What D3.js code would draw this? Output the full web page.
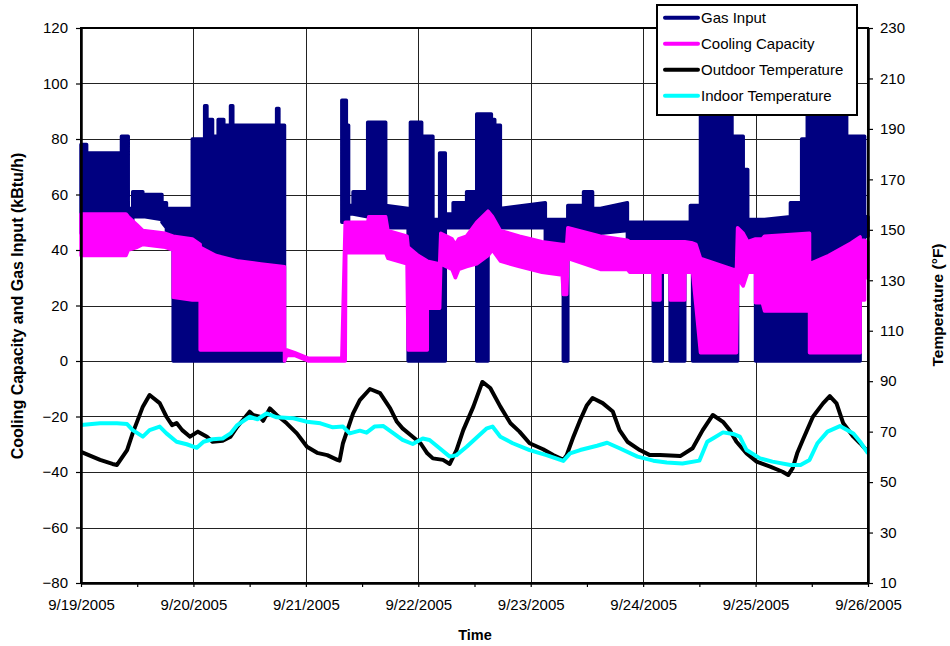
<!DOCTYPE html>
<html><head><meta charset="utf-8">
<script src="https://cdn.jsdelivr.net/npm/d3@7"></script>
<style>body{margin:0;background:#fff}svg{display:block;font-family:"Liberation Sans",Arial,sans-serif}</style>
</head><body>
<svg id="chart" width="950" height="646"></svg>
<script>
// ---- data (time in days since 9/19/2005 00:00) ----
const dateLabels = ["9/19/2005","9/20/2005","9/21/2005","9/22/2005","9/23/2005","9/24/2005","9/25/2005","9/26/2005"];
const leftTicks = [-80,-60,-40,-20,0,20,40,60,80,100,120];
const rightTicks = [10,30,50,70,90,110,130,150,170,190,210,230];
const seriesNames = ["Gas Input","Cooling Capacity","Outdoor Temperature","Indoor Temperature"];

// Gas input: envelope of the rapidly cycling signal (upper / lower)
const gasTime = [0.00,0.05,0.05,0.36,0.36,0.42,0.42,0.46,0.46,0.55,0.55,0.57,0.57,0.72,0.72,0.76,0.76,0.82,0.82,0.99,0.99,1.10,1.10,1.12,1.12,1.17,1.17,1.22,1.22,1.27,1.27,1.33,1.33,1.35,1.35,1.74,1.74,1.76,1.76,1.81,1.81,2.00,2.32,2.32,2.36,2.36,2.38,2.38,2.42,2.42,2.55,2.55,2.71,2.71,2.91,2.91,2.93,2.93,3.03,3.03,3.13,3.13,3.19,3.19,3.24,3.24,3.31,3.31,3.43,3.43,3.52,3.52,3.62,3.62,3.65,3.65,3.68,3.68,3.73,3.73,4.13,4.13,4.29,4.29,4.33,4.33,4.47,4.47,4.55,4.55,4.62,4.86,4.86,5.09,5.09,5.17,5.17,5.24,5.24,5.37,5.37,5.42,5.42,5.44,5.44,5.51,5.51,5.79,5.79,5.84,5.84,5.89,5.89,5.93,5.93,6.00,6.00,6.06,6.06,6.08,6.08,6.31,6.31,6.41,6.41,6.46,6.46,6.81,6.81,6.93,6.93,6.97,6.97,7.00];
const gasHigh = [78,78,75,75,81,81,55,55,61,61,56,56,60,60,57,57,55,55,55,55,80,80,92,92,87,87,81,81,87,87,85,85,92,92,85,85,91,91,85,85,null,null,null,94,94,85,85,56,56,61,61,86,86,56,55,55,55,86,86,81,81,51,51,75,75,53,53,57,57,61,61,89,89,89,89,87,87,85,85,55,57,51,51,51,51,56,56,61,61,55,55,57,50,50,50,50,50,50,50,50,50,50,56,56,56,56,95,95,81,81,81,81,69,69,51,51,51,51,51,51,51,52,57,57,80,80,95,95,81,81,81,81,52,52];
const gasLow = [46,46,46,47,47,47,50,50,52,52,52,52,52,51,50,48,46,46,0,0,0,0,0,0,0,0,0,0,0,0,0,0,0,0,0,0,0,0,0,0,null,null,null,50,50,50,50,53,53,53,52,52,50,48,48,0,0,0,0,0,0,0,0,0,0,48,48,48,48,48,48,0,0,48,48,48,48,48,48,48,48,43,43,0,0,46,46,46,46,45,46,47,43,43,0,0,42,42,0,0,38,38,38,38,0,0,0,0,0,0,40,40,40,40,40,40,0,0,42,42,0,0,0,0,0,0,0,0,0,0,30,30,45,45];

// Cooling capacity: envelope (upper / lower)
const coolTime = [0.00,0.40,0.42,0.50,0.55,0.75,0.82,0.82,0.99,1.06,1.06,1.20,1.40,1.60,1.81,1.81,1.83,1.90,2.02,2.32,2.35,2.355,2.55,2.56,2.71,2.73,2.90,2.91,3.00,3.08,3.08,3.19,3.20,3.30,3.33,3.36,3.43,3.52,3.62,3.66,3.73,3.90,4.10,4.28,4.29,4.32,4.33,4.62,4.86,4.88,5.09,5.09,5.15,5.15,5.24,5.24,5.37,5.37,5.44,5.47,5.51,5.80,5.83,5.84,5.89,5.93,6.00,6.00,6.06,6.08,6.48,6.48,6.65,6.85,6.93,6.93,6.97,6.97,7.00];
const coolHigh = [53,53,52,49,47,46,45,45,44,42,41,38,36,35,34,4,4,3,1,1,50,50,50,52,52,47,45,41,38,36,36,35,46,44,42,44,45,50,54,52,47,45,43,42,42,42,48,45,43.5,43,43,43,43,43,43,43,43,43,42.5,42,37,33,33,48,46,43,44,44,44,45,46,35,38,42.5,44.7,43.5,43.5,43,43];
const coolLow = [38,38,40,41,42,41,40,23,22,22,4,4,4,4,4,0,2,2,0,0,0,39,39,39,39,37,35,4,4,4,19,19,35,33,30,33,34,35,38,40,36,34,32,31,24,24,37,33,33,32,32,22,22,32,32,22,22,32,32,20,3,3,3,30,27,32,32,21,21,18,18,3,3,3,3,22,22,30,30];

// Outdoor temperature (°F)
const outTime = [0.00,0.17,0.28,0.32,0.41,0.46,0.55,0.61,0.70,0.76,0.81,0.85,0.90,0.97,1.04,1.12,1.17,1.26,1.33,1.39,1.44,1.50,1.53,1.59,1.62,1.68,1.74,1.83,1.92,2.01,2.10,2.19,2.28,2.30,2.33,2.42,2.48,2.57,2.66,2.75,2.81,2.86,2.95,3.02,3.08,3.13,3.22,3.28,3.34,3.40,3.49,3.57,3.64,3.73,3.82,3.90,3.99,4.11,4.20,4.29,4.32,4.38,4.44,4.50,4.55,4.64,4.73,4.79,4.86,4.97,5.06,5.15,5.33,5.44,5.53,5.62,5.71,5.77,5.83,5.92,6.01,6.13,6.24,6.29,6.33,6.37,6.42,6.51,6.60,6.66,6.72,6.78,6.87,6.93,7.00];
const outTemp = [62.0,58.8,57.2,56.8,62.7,69.4,79.9,84.5,81.3,75.9,72.6,73.4,70.6,68.0,70.0,68.0,66.0,66.4,68.0,72.0,74.6,77.9,76.6,75.9,74.3,79.2,76.6,73.3,69.3,64.0,61.6,60.7,58.8,58.5,65.4,77.2,82.5,86.9,85.3,79.2,73.9,71.3,68.0,65.4,61.4,59.4,58.8,57.2,62.7,70.6,79.9,89.7,87.3,79.9,73.3,70.0,65.4,63.0,60.7,58.8,60.7,68.0,74.6,80.5,83.3,81.3,78.0,70.6,66.0,62.7,60.7,60.7,60.3,63.4,70.6,76.6,73.9,70.6,66.0,61.4,58.1,56.1,54.1,52.8,55.5,61.4,66.7,75.9,81.2,84.1,81.2,73.3,68.0,65.4,62.0];

// Indoor temperature (°F)
const inTime = [0.00,0.17,0.32,0.41,0.46,0.55,0.61,0.70,0.76,0.85,0.94,1.03,1.09,1.17,1.26,1.33,1.39,1.50,1.57,1.65,1.74,1.89,2.01,2.13,2.24,2.33,2.39,2.48,2.54,2.61,2.69,2.78,2.86,2.95,3.04,3.10,3.19,3.28,3.34,3.43,3.52,3.61,3.66,3.73,3.84,3.99,4.14,4.29,4.35,4.44,4.59,4.68,4.79,4.95,5.09,5.21,5.35,5.50,5.57,5.62,5.71,5.80,5.86,5.92,6.04,6.15,6.31,6.40,6.48,6.55,6.64,6.75,6.87,6.93,7.00];
const inTemp = [72.6,73.3,73.3,73.0,70.6,68.0,70.6,72.0,69.3,66.0,65.0,63.6,66.0,67.0,67.3,69.3,72.6,75.9,74.9,77.2,75.7,75.3,73.9,73.3,71.7,72.0,69.3,70.4,69.6,72.0,72.2,69.3,66.7,65.1,67.3,66.7,63.4,60.1,60.7,64.0,67.7,71.3,72.0,68.0,65.4,62.7,60.7,58.4,61.4,62.7,64.4,65.6,63.4,60.1,58.5,57.8,57.4,58.5,66.0,67.3,69.7,69.1,68.0,62.7,59.4,58.1,56.8,56.8,58.8,65.4,70.0,72.2,69.3,66.0,61.4];

const colors = ["#000080","#FF00FF","#000000","#00FFFF"];

// ---- layout ----
const svg = d3.select("#chart");
const L = 81, R = 868, T = 28, B = 583;
const x = d3.scaleLinear().domain([0,7]).range([L,R]);
const yL = d3.scaleLinear().domain([-80,120]).range([B,T]);
const yR = d3.scaleLinear().domain([10,230]).range([B,T]);
const font = "Liberation Sans, Arial, sans-serif";

// grid
const g = svg.append("g");
g.selectAll("line.h").data(leftTicks.filter(v => v > -80 && v < 120)).enter().append("line")
  .attr("x1", L).attr("x2", R).attr("y1", d => Math.round(yL(d))+0.5).attr("y2", d => Math.round(yL(d))+0.5)
  .attr("stroke", "#222").attr("stroke-width", 1);
g.selectAll("line.v").data(d3.range(1,7)).enter().append("line")
  .attr("y1", T).attr("y2", B).attr("x1", d => Math.round(x(d))+0.5).attr("x2", d => Math.round(x(d))+0.5)
  .attr("stroke", "#222").attr("stroke-width", 1);

// gas area
const gasIdx = d3.range(gasTime.length);
const gasArea = d3.area().defined(i => gasHigh[i] !== null)
  .x(i => x(gasTime[i])).y0(i => yL(gasLow[i])).y1(i => yL(gasHigh[i]));
svg.append("path").attr("d", gasArea(gasIdx))
  .attr("fill", colors[0]).attr("stroke", colors[0]).attr("stroke-width", 3.5).attr("stroke-linejoin", "round");

const coolIdx = d3.range(coolTime.length);
const coolArea = d3.area().x(i => x(coolTime[i])).y0(i => yL(coolLow[i])).y1(i => yL(coolHigh[i]));
svg.append("path").attr("d", coolArea(coolIdx))
  .attr("fill", colors[1]).attr("stroke", colors[1]).attr("stroke-width", 3.5).attr("stroke-linejoin", "round");

const outLine = d3.line().x(i => x(outTime[i])).y(i => yR(outTemp[i]));
svg.append("path").attr("d", outLine(d3.range(outTime.length)))
  .attr("fill", "none").attr("stroke", colors[2]).attr("stroke-width", 4).attr("stroke-linejoin", "round");

const inLine = d3.line().x(i => x(inTime[i])).y(i => yR(inTemp[i]));
svg.append("path").attr("d", inLine(d3.range(inTime.length)))
  .attr("fill", "none").attr("stroke", colors[3]).attr("stroke-width", 4).attr("stroke-linejoin", "round");

// frame
svg.append("rect").attr("x", L).attr("y", T).attr("width", R-L).attr("height", B-T)
  .attr("fill", "none").attr("stroke", "#000").attr("stroke-width", 2);

// axes
function styleAxis(sel){
  sel.select(".domain").attr("stroke", "#000").attr("stroke-width", 2.5);
  sel.selectAll(".tick line").attr("stroke", "#000").attr("stroke-width", 1.2);
  sel.selectAll("text").attr("font-family", font).attr("font-size", 15).attr("fill", "#000");
}
svg.append("g").attr("transform", `translate(${L},0)`)
  .call(d3.axisLeft(yL).tickValues(leftTicks).tickSize(5).tickSizeOuter(0).tickPadding(8))
  .call(styleAxis);
svg.append("g").attr("transform", `translate(${R},0)`)
  .call(d3.axisRight(yR).tickValues(rightTicks).tickSize(5).tickSizeOuter(0).tickPadding(7))
  .call(styleAxis);
svg.append("g").attr("transform", `translate(0,${B})`)
  .call(d3.axisBottom(x).tickValues(d3.range(0,7.01,0.5)).tickSize(4).tickSizeOuter(0).tickPadding(12)
    .tickFormat(d => Number.isInteger(d) ? dateLabels[d] : ""))
  .call(styleAxis);

// axis titles
svg.append("text").attr("transform", "translate(23,306) rotate(-90)").attr("text-anchor", "middle")
  .attr("font-family", font).attr("font-size", 16).attr("font-weight", "bold")
  .text("Cooling Capacity and Gas Input (kBtu/h)");
svg.append("text").attr("transform", "translate(943,305) rotate(-90)").attr("text-anchor", "middle")
  .attr("font-family", font).attr("font-size", 15.5).attr("font-weight", "bold")
  .text("Temperature (°F)");
svg.append("text").attr("x", 475).attr("y", 640).attr("text-anchor", "middle")
  .attr("font-family", font).attr("font-size", 14.5).attr("font-weight", "bold").text("Time");

// legend
const lg = svg.append("g").attr("transform", "translate(657,5)");
lg.append("rect").attr("width", 200).attr("height", 110).attr("fill", "#fff").attr("stroke", "#000").attr("stroke-width", 2);
seriesNames.forEach((name, i) => {
  const yy = 12.7 + i * 26;
  lg.append("line").attr("x1", 8).attr("x2", 41).attr("y1", yy).attr("y2", yy)
    .attr("stroke", colors[i]).attr("stroke-width", 4).attr("stroke-linecap", "round");
  lg.append("text").attr("x", 44).attr("y", yy + 5.5).attr("font-family", font).attr("font-size", 15)
    .text(name);
});
</script>
</body></html>
